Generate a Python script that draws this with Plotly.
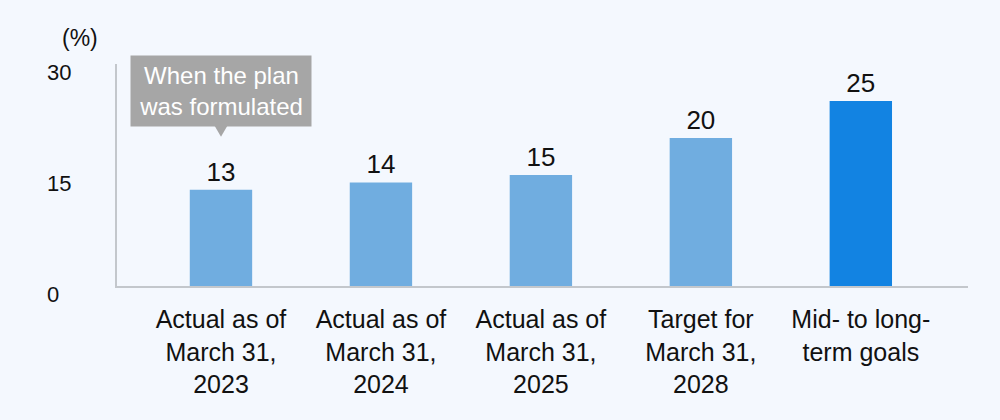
import plotly.graph_objects as go

categories = ["Actual as of<br>March 31,<br>2023", "Actual as of<br>March 31,<br>2024",
              "Actual as of<br>March 31,<br>2025", "Target for<br>March 31,<br>2028",
              "Mid- to long-<br>term goals"]
values = [13, 14, 15, 20, 25]
labels = ["13", "14", "15", "20", "25"]
y_ticks = [0, 15, 30]
y_tick_text = ["0", "15", "30"]
bar_colors = ["#70ADE0", "#70ADE0", "#70ADE0", "#70ADE0", "#1283E2"]

FONT = "Liberation Sans, Arial, sans-serif"
BG = "#F4F8FE"

x_idx = list(range(len(categories)))

fig = go.Figure()
fig.add_trace(go.Bar(
    x=x_idx, y=values, width=0.39,
    marker=dict(color=bar_colors, line=dict(width=0)),
    text=labels, textposition="outside", cliponaxis=False,
    textfont=dict(family=FONT, size=26, color="#111111"),
    hoverinfo="skip",
))

annotations = []
for v, t in zip(y_ticks, y_tick_text):
    annotations.append(dict(x=-0.0846, xref="paper", y=v, yref="y", yshift=-8,
                            text=t, showarrow=False, xanchor="left", yanchor="middle",
                            font=dict(family=FONT, size=22, color="#111111")))
annotations.append(dict(x=-0.0435, xref="paper", y=1.117, yref="paper", text="(%)",
                        showarrow=False, xanchor="center", yanchor="middle",
                        font=dict(family=FONT, size=23, color="#111111")))
annotations.append(dict(x=x_idx[0], xref="x", y=values[0], yref="y", yshift=99,
                        text="When the plan<br>was formulated", showarrow=False,
                        xanchor="center", yanchor="middle", align="center",
                        bgcolor="#A6A6A6", width=176, height=66, borderpad=2,
                        font=dict(family=FONT, size=24, color="#FFFFFF")))

fig.add_shape(type="path", xref="x", yref="y", xsizemode="pixel", ysizemode="pixel",
              xanchor=x_idx[0], yanchor=values[0],
              path="M-7,65 L7,65 L0,53 Z", fillcolor="#A6A6A6", line=dict(width=0))

fig.update_layout(
    width=1000, height=420,
    margin=dict(l=117, r=32, t=64, b=134),
    paper_bgcolor=BG, plot_bgcolor=BG,
    showlegend=False,
    annotations=annotations,
    font=dict(family=FONT, color="#111111"),
    xaxis=dict(tickmode="array", tickvals=x_idx, ticktext=categories,
               range=[-0.65, 4.67], showgrid=False, zeroline=False,
               showline=True, linecolor="#C3C7CC", linewidth=2,
               ticks="", ticklabelstandoff=10,
               tickfont=dict(family=FONT, size=25, color="#111111"), fixedrange=True),
    yaxis=dict(range=[0, 30], showgrid=False, zeroline=False, showticklabels=False,
               showline=True, linecolor="#C3C7CC", linewidth=2, ticks="", fixedrange=True),
)

fig.write_html("out.html", config={"displayModeBar": False},
               post_script="document.body.style.margin='0';document.body.style.background='" + BG + "';")
